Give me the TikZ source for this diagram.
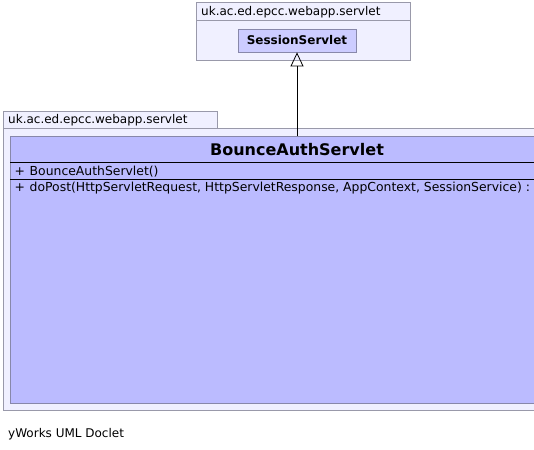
\documentclass[tikz,border=0pt]{standalone}
\usepackage{fontspec}
\setmainfont{DejaVu Sans}
\usetikzlibrary{arrows.meta}
\definecolor{pkgfill}{RGB}{240,240,255}
\definecolor{pkgline}{RGB}{153,153,170}
\definecolor{clsfill}{RGB}{187,187,255}
\definecolor{clsline}{RGB}{136,136,170}
\definecolor{refill}{RGB}{204,204,255}
\tikzset{
  pkg/.style={draw=pkgline, fill=pkgfill, line width=0.8pt},
  cls/.style={draw=clsline, fill=clsfill, line width=0.8pt},
  txt/.style={inner sep=0pt, anchor=base west, font=\fontsize{12}{14}\selectfont},
  mem/.style={inner sep=0pt, anchor=base west, font=\fontsize{12.4}{14}\selectfont},
  inherit/.style={-{Triangle[open, length=14pt, width=13pt]}, line width=0.8pt, black}
}
\begin{document}
\begin{tikzpicture}[x=1pt, y=-1pt]
\useasboundingbox (0,0) rectangle (534,449);
\clip (0,0) rectangle (534,449);
% top package
\draw[pkg] (196,2.5) rectangle (410,60);
\draw[pkgline, line width=0.8pt] (196,20) -- (410,20);
\node[txt] (toplbl) at (201,16) {uk.ac.ed.epcc.webapp.servlet};
\node[draw=clsline, fill=refill, line width=0.8pt, minimum width=118pt, minimum height=23pt, inner sep=0pt,
  font=\bfseries\fontsize{12}{14}\selectfont] (ss) at (297,40.5) {SessionServlet};
% bottom package
\draw[pkg] (3,111) rectangle (217,128);
\draw[pkg] (3,128) rectangle (545,410);
\node[txt] (botlbl) at (8,124) {uk.ac.ed.epcc.webapp.servlet};
% class
\node[cls, minimum width=535pt, minimum height=267pt, inner sep=0pt, anchor=north west] (bas) at (10,136) {};
\draw[black, line width=0.8pt] (10,162) -- (545,162);
\draw[black, line width=0.8pt] (10,179) -- (545,179);
\node[inner sep=0pt, anchor=base, font=\bfseries\fontsize{16}{18}\selectfont] (title) at (297,155) {BounceAuthServlet};
\node[mem] (ctorp) at (14.5,175) {+};
\node[mem] (ctor) at (29.5,175) {BounceAuthServlet()};
\node[mem] (methp) at (14.5,191) {+};
\node[mem] (meth) at (29.5,191) {doPost(HttpServletRequest, HttpServletResponse, AppContext, SessionService) :};
% inheritance
\draw[inherit] (bas.north -| ss.south) -- (ss.south);
% footer
\node[txt] (foot) at (8,437) {yWorks UML Doclet};
\end{tikzpicture}
\end{document}
